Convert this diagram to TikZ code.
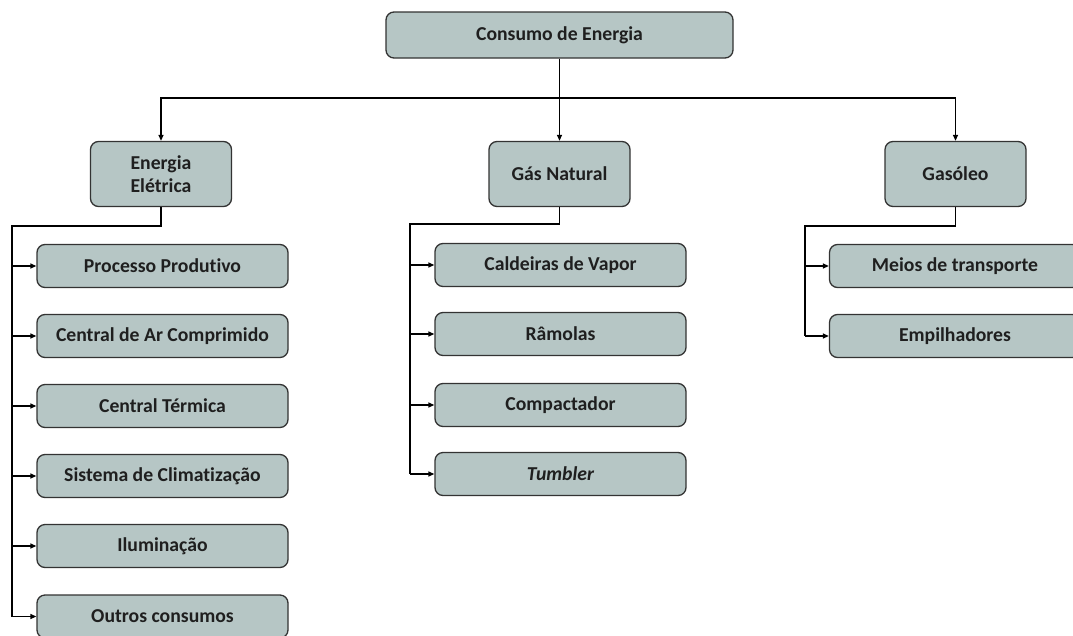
\documentclass[tikz,border=0pt]{standalone}
\usepackage{fontspec}
\setmainfont{Carlito}[Ligatures={NoCommon}]
\usetikzlibrary{arrows.meta}
\definecolor{boxfill}{HTML}{B6C6C5}
\definecolor{boxline}{HTML}{333333}
\tikzset{
  box/.style={draw=boxline, fill=boxfill, line width=1.3pt, rounded corners=8pt,
    font=\bfseries\fontsize{19.7}{22}\selectfont, text=black!88, align=center, inner sep=2pt},
  rootbox/.style={box, minimum width=347pt, minimum height=46pt},
  midbox/.style={box, minimum width=141pt, minimum height=65pt},
  leafbox/.style={box, minimum width=251pt, minimum height=43pt},
  link/.style={draw=black, line width=1.3pt},
  arr/.style={link, -{Triangle[length=6pt,width=5pt]}},
}
\begin{document}
\begin{tikzpicture}[x=1pt,y=-1pt]
\useasboundingbox (0,0) rectangle (1073,635);
\begin{scope}
\clip (0,0) rectangle (1073,635);
% root and first level
\node[rootbox] (root) at (559.5,35) {Consumo de Energia};
\node[midbox] (ee) at (161,174) {Energia\\[1pt]Elétrica};
\node[midbox] (gn) at (559.5,174) {Gás Natural};
\node[midbox] (go) at (955.5,174) {Gasóleo};
\coordinate (bus) at (559.5,98);

% Energia Elétrica
\node[leafbox] (e1) at (162.5,266) {Processo Produtivo};
\node[leafbox] (e2) at (162.5,336) {Central de Ar Comprimido};
\node[leafbox] (e3) at (162.5,406) {Central Térmica};
\node[leafbox] (e4) at (162.5,476) {Sistema de Climatização};
\node[leafbox] (e5) at (162.5,546) {Iluminação};
\node[leafbox] (e6) at (162.5,616.5) {Outros consumos};

% Gás Natural
\node[leafbox] (g1) at (560.5,265) {Caldeiras de Vapor};
\node[leafbox] (g2) at (560.5,334) {Râmolas};
\node[leafbox] (g3) at (560.5,405) {Compactador};
\node[leafbox] (g4) at (560.5,474) {\itshape Tumbler};

% Gasóleo
\node[leafbox] (d1) at (955,266) {Meios de transporte};
\node[leafbox] (d2) at (955,336) {Empilhadores};

% root to first level
\draw[arr] (root.south) -- (gn.north);
\draw[arr] (root.south) |- (ee.north |- bus) -- (ee.north);
\draw[arr] (root.south) |- (go.north |- bus) -- (go.north);

% Energia Elétrica branch
\coordinate (eL) at (12,226);
\draw[link] (ee.south) |- (eL) -- (eL |- e6.west);
\foreach \c in {e1,e2,e3,e4,e5,e6}
  \draw[arr] (eL |- \c.west) -- (\c.west);

% Gás Natural branch
\coordinate (gL) at (410,224);
\draw[link] (gn.south) |- (gL) -- (gL |- g4.west);
\foreach \c in {g1,g2,g3,g4}
  \draw[arr] (gL |- \c.west) -- (\c.west);

% Gasóleo branch
\coordinate (dL) at (805,226);
\draw[link] (go.south) |- (dL) -- (dL |- d2.west);
\foreach \c in {d1,d2}
  \draw[arr] (dL |- \c.west) -- (\c.west);
\end{scope}
\end{tikzpicture}
\end{document}
